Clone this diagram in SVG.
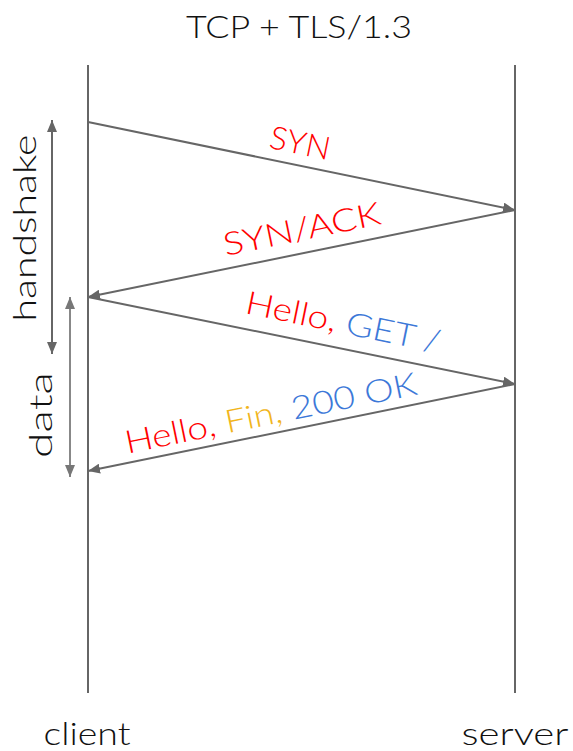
<svg xmlns="http://www.w3.org/2000/svg" width="573" height="751" viewBox="0 0 573 751">
  <style>
    text { font-family: Lato, "Open Sans", sans-serif; font-size: 32px; font-weight: 300; }
    .title { fill: #111; }
    .red { fill: #ff0000; }
    .blue { fill: #3c78d8; }
    .gold { fill: #f1b51c; }
    .life { stroke: #666; stroke-width: 2; fill: none; }
    .msg { stroke: #666; stroke-width: 2; fill: none; marker-end: url(#head); }
    .span { stroke: #666; stroke-width: 2; fill: none; marker-start: url(#headStart); marker-end: url(#head); }
    .span2 { stroke: #888; stroke-width: 2; fill: none; marker-start: url(#headStart2); marker-end: url(#head2); }
  </style>
  <defs>
    <marker id="head" viewBox="0 0 12 10" refX="12" refY="5" markerWidth="12" markerHeight="10" markerUnits="userSpaceOnUse" orient="auto">
      <path d="M0,0 L12,5 L0,10 Z" fill="#666"/>
    </marker>
    <marker id="headStart" viewBox="0 0 12 10" refX="0" refY="5" markerWidth="12" markerHeight="10" markerUnits="userSpaceOnUse" orient="auto">
      <path d="M12,0 L0,5 L12,10 Z" fill="#666"/>
    </marker>
    <marker id="head2" viewBox="0 0 12 10" refX="12" refY="5" markerWidth="12" markerHeight="10" markerUnits="userSpaceOnUse" orient="auto">
      <path d="M0,0 L12,5 L0,10 Z" fill="#777"/>
    </marker>
    <marker id="headStart2" viewBox="0 0 12 10" refX="0" refY="5" markerWidth="12" markerHeight="10" markerUnits="userSpaceOnUse" orient="auto">
      <path d="M12,0 L0,5 L12,10 Z" fill="#777"/>
    </marker>
  </defs>

  <text class="title" x="299" y="38" text-anchor="middle" textLength="226" lengthAdjust="spacingAndGlyphs">TCP + TLS/1.3</text>

  <g id="client">
    <line class="life" x1="88" y1="65" x2="88" y2="693"/>
    <text class="title" x="87" y="745" text-anchor="middle" textLength="87" lengthAdjust="spacingAndGlyphs">client</text>
  </g>
  <g id="server">
    <line class="life" x1="515" y1="65" x2="515" y2="693"/>
    <text class="title" x="515" y="745" text-anchor="middle" textLength="107" lengthAdjust="spacingAndGlyphs">server</text>
  </g>

  <g id="handshake">
    <line class="span" x1="52" y1="120" x2="52" y2="354"/>
    <text class="title" transform="translate(36,228) rotate(-90)" text-anchor="middle" textLength="187" lengthAdjust="spacingAndGlyphs">handshake</text>
  </g>
  <g id="data">
    <line class="span2" x1="70" y1="297" x2="70" y2="477"/>
    <text class="title" transform="translate(52,415) rotate(-90)" text-anchor="middle" textLength="86" lengthAdjust="spacingAndGlyphs">data</text>
  </g>

  <g id="connectors">
    <line class="msg" x1="88" y1="122" x2="515" y2="210"/>
    <line class="msg" x1="515" y1="210" x2="88" y2="297"/>
    <line class="msg" x1="88" y1="297" x2="515" y2="384"/>
    <line class="msg" x1="515" y1="384" x2="88" y2="471"/>
  </g>

  <g id="labels">
    <text transform="translate(298,154) rotate(11.6)" text-anchor="middle" class="red" textLength="61" lengthAdjust="spacingAndGlyphs">SYN</text>
    <text transform="translate(304,240) rotate(-11.6)" text-anchor="middle" class="red" textLength="160" lengthAdjust="spacingAndGlyphs">SYN/ACK</text>
    <text transform="translate(341,333) rotate(11.6)" text-anchor="middle" textLength="198" lengthAdjust="spacingAndGlyphs"><tspan class="red">Hello, </tspan><tspan class="blue">GET /</tspan></text>
    <text transform="translate(273,424) rotate(-11.6)" text-anchor="middle" textLength="297" lengthAdjust="spacingAndGlyphs"><tspan class="red">Hello, </tspan><tspan class="gold">Fin, </tspan><tspan class="blue">200 OK</tspan></text>
  </g>
</svg>
